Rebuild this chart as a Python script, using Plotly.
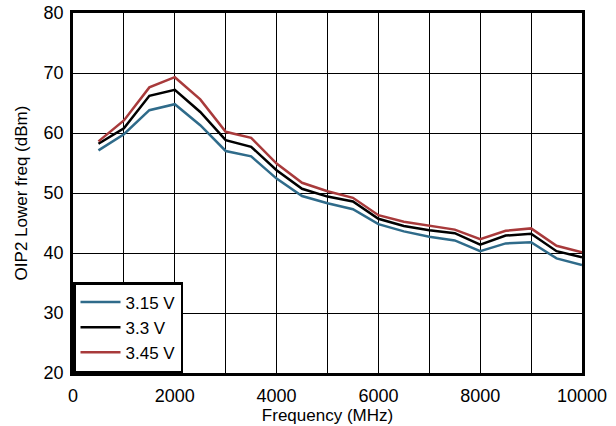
import plotly.graph_objects as go

freq = [500, 1000, 1500, 2000, 2500, 3000, 3500, 4000, 4500, 5000,
        5500, 6000, 6500, 7000, 7500, 8000, 8500, 9000, 9500, 10000]
v315 = [57.1, 59.8, 63.8, 64.8, 61.3, 57.0, 56.1, 52.4, 49.5, 48.3,
        47.3, 44.8, 43.6, 42.7, 42.1, 40.3, 41.6, 41.8, 39.1, 38.0]
v330 = [58.2, 60.8, 66.2, 67.2, 63.5, 58.8, 57.7, 53.8, 50.7, 49.4,
        48.6, 45.7, 44.5, 43.8, 43.3, 41.4, 42.9, 43.2, 40.3, 39.3]
v345 = [58.6, 62.1, 67.6, 69.3, 65.6, 60.2, 59.2, 54.9, 51.7, 50.3,
        49.2, 46.3, 45.2, 44.6, 43.9, 42.3, 43.7, 44.1, 41.2, 40.1]

series = [("3.15 V", v315, "#2F6B8A"), ("3.3 V", v330, "#000000"), ("3.45 V", v345, "#A83A3B")]

fig = go.Figure()
for name, ys, col in series:
    fig.add_trace(go.Scatter(x=freq, y=ys, name=name, mode="lines",
                             line=dict(color=col, width=2.5)))

font = "Arial, Liberation Sans, sans-serif"
fig.update_layout(
    width=616, height=426,
    margin=dict(l=73, r=34, t=13, b=53),
    paper_bgcolor="white", plot_bgcolor="white",
    font=dict(family=font, size=18, color="black"),
    showlegend=True,
    legend=dict(x=0, y=0, xanchor="left", yanchor="bottom",
                bordercolor="black", borderwidth=2.5, bgcolor="white",
                font=dict(size=17), itemwidth=40, tracegroupgap=0),
    xaxis=dict(range=[0, 10000], dtick=2000, tick0=0, tickformat="d",
               showgrid=True, gridcolor="black", gridwidth=1,
               minor=dict(dtick=1000, showgrid=True, gridcolor="black", gridwidth=1),
               showline=True, linecolor="black", linewidth=2.5, mirror=True,
               ticks="", zeroline=False, automargin=False, ticklabelstandoff=5,
               title=dict(text="Frequency (MHz)", standoff=2, font=dict(size=17)),
               tickfont=dict(size=18)),
    yaxis=dict(range=[20, 80], dtick=10, tick0=20, tickformat="d",
               showgrid=True, gridcolor="black", gridwidth=1,
               showline=True, linecolor="black", linewidth=2.5, mirror=True,
               ticks="", zeroline=False, automargin=False, ticklabelstandoff=3,
               title=dict(text="OIP2 Lower freq (dBm)", standoff=12, font=dict(size=17)),
               tickfont=dict(size=18)),
)

fig.write_html("out.html", config={"displayModeBar": False},
               post_script="document.body.style.margin='0';")
